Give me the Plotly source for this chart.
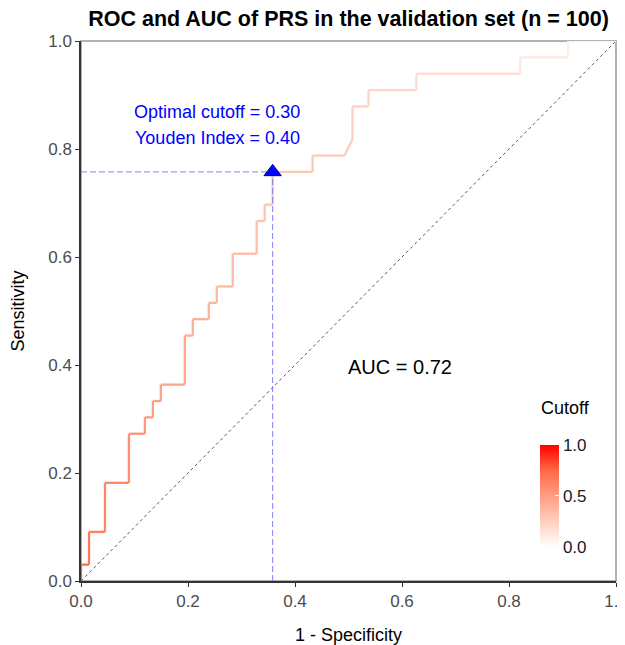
"""
ROC curve of PRS in the validation set, coloured by cutoff
"""

import plotly.graph_objects as go
from plotly.colors import sample_colorscale

# Validation set: 33 cases, 67 controls
n_pos = 33
n_neg = 67

# Corner points of the ROC step curve (false positives, true positives, cutoff)
fp_count = [0, 0, 1, 1, 3, 3, 6, 6, 8, 8, 9, 9, 10, 10, 13, 13, 14, 14, 16, 16, 17, 17,
            19, 19, 22, 22, 23, 23, 24, 24, 29, 29, 33, 34, 34, 36, 36, 42, 42, 55, 55,
            61, 61, 67]
tp_count = [0, 1, 1, 3, 3, 6, 6, 9, 9, 10, 10, 11, 11, 12, 12, 15, 15, 16, 16, 17, 17, 18,
            18, 20, 20, 22, 22, 23, 23, 25, 25, 26, 26, 27, 29, 29, 30, 30, 31, 31, 32,
            32, 33, 33]
cutoff = [0.75, 0.70, 0.68, 0.65, 0.62, 0.60, 0.57, 0.55, 0.53, 0.52, 0.50, 0.49, 0.48,
          0.47, 0.45, 0.43, 0.42, 0.41, 0.40, 0.39, 0.38, 0.37, 0.36, 0.35, 0.33, 0.32,
          0.31, 0.31, 0.30, 0.30, 0.28, 0.27, 0.26, 0.25, 0.24, 0.22, 0.21, 0.18, 0.17,
          0.13, 0.12, 0.09, 0.08, 0.05]

best_fpr = 24 / 67
best_sens = 25 / 33
auc_value = 0.72
best_cutoff = 0.30
youden = 0.40

fpr = [c / n_neg for c in fp_count]
sens = [c / n_pos for c in tp_count]

# white -> red, interpolated roughly like ggplot's Lab gradient
cscale = [[0, "#FFFFFF"], [0.25, "#FFCFBF"], [0.5, "#FF9E81"], [0.75, "#FF6846"], [1, "#FF0000"]]

FONT = "Liberation Sans, Arial, sans-serif"

fig = go.Figure()

# chance line
fig.add_trace(go.Scatter(x=[0, 1], y=[0, 1], mode="lines",
                         line=dict(color="#555555", width=1, dash="3px,3px"),
                         hoverinfo="skip", showlegend=False))

# ROC path, one segment per step so each gets its own colour
seg_colors = sample_colorscale(cscale, cutoff)
for i in range(len(fpr) - 1):
    fig.add_trace(go.Scatter(x=fpr[i:i + 2], y=sens[i:i + 2], mode="lines",
                             line=dict(color=seg_colors[i], width=2.3),
                             hoverinfo="skip", showlegend=False))

# invisible markers only to get the colour bar
fig.add_trace(go.Scatter(x=fpr, y=sens, mode="markers",
                         marker=dict(color=cutoff, colorscale=cscale, cmin=0, cmax=1,
                                     opacity=0, size=1, showscale=True,
                                     colorbar=dict(
                                         x=0.858, xanchor="left", y=0.063, yanchor="bottom",
                                         xpad=0, ypad=0,
                                         len=0.189, lenmode="fraction", thickness=19,
                                         outlinewidth=0, tickvals=[0, 0.5, 1],
                                         ticktext=["0.0", "0.5", "1.0"],
                                         ticks="inside", ticklen=4, tickcolor="white",
                                         tickfont=dict(size=17, color="#1a1a1a"))),
                         hoverinfo="skip", showlegend=False))

# optimal point guides
fig.add_trace(go.Scatter(x=[0, best_fpr], y=[best_sens, best_sens], mode="lines",
                         line=dict(color="#8080FF", width=1, dash="6px,3px"),
                         hoverinfo="skip", showlegend=False))
fig.add_trace(go.Scatter(x=[best_fpr, best_fpr], y=[0, best_sens], mode="lines",
                         line=dict(color="#8080FF", width=1, dash="6px,3px"),
                         hoverinfo="skip", showlegend=False))
fig.add_trace(go.Scatter(x=[best_fpr], y=[best_sens], mode="markers",
                         marker=dict(symbol="triangle-up", size=15, color="#0000FF",
                                     line=dict(color="#000080", width=1)),
                         hoverinfo="skip", showlegend=False))

fig.add_annotation(x=0.255, y=0.868, text=f"Optimal cutoff = {best_cutoff:.2f}",
                   showarrow=False, font=dict(size=18, color="#0000FF"))
fig.add_annotation(x=0.255, y=0.820, text=f"Youden Index = {youden:.2f}",
                   showarrow=False, font=dict(size=18, color="#0000FF"))
fig.add_annotation(x=0.597, y=0.397, text=f"AUC = {auc_value:.2f}",
                   showarrow=False, font=dict(size=20, color="#000000"))
fig.add_annotation(x=0.856, xref="paper", xanchor="left", y=0.32, yref="paper",
                   yanchor="middle", text="Cutoff", showarrow=False,
                   font=dict(size=18, color="#000000"))

# panel border (grey), axis lines drawn darker on left/bottom
fig.add_shape(type="rect", xref="paper", yref="paper", x0=0, y0=0, x1=1, y1=1,
              line=dict(color="#999999", width=1.5), layer="below")

axis_style = dict(range=[0, 1], tickvals=[0, 0.2, 0.4, 0.6, 0.8, 1.0],
                  ticktext=["0.0", "0.2", "0.4", "0.6", "0.8", "1.0"],
                  showgrid=False, zeroline=False, showline=True, linecolor="#333333",
                  linewidth=1.5, ticks="outside", ticklen=4, tickcolor="#333333",
                  automargin=False, ticklabeloverflow="allow",
                  tickfont=dict(size=17, color="#4D4D4D"))

fig.update_xaxes(**axis_style, title=dict(text="1 - Specificity", standoff=20,
                                          font=dict(size=18, color="#000000")))
fig.update_yaxes(**axis_style, title=dict(text="Sensitivity", standoff=20,
                                          font=dict(size=18, color="#000000")))

# page body has an 8px margin, so the figure is offset by 8px
fig.update_layout(
    width=625, height=637,
    margin=dict(l=73, r=17, t=33, b=64),
    plot_bgcolor="white", paper_bgcolor="white",
    font=dict(family=FONT),
    title=dict(text="<b>ROC and AUC of PRS in the validation set (n = 100)</b>",
               x=0.5, xref="paper", xanchor="center", y=0.984, yanchor="middle",
               font=dict(size=21.5, color="#000000")),
)

fig.write_html("out.html")
